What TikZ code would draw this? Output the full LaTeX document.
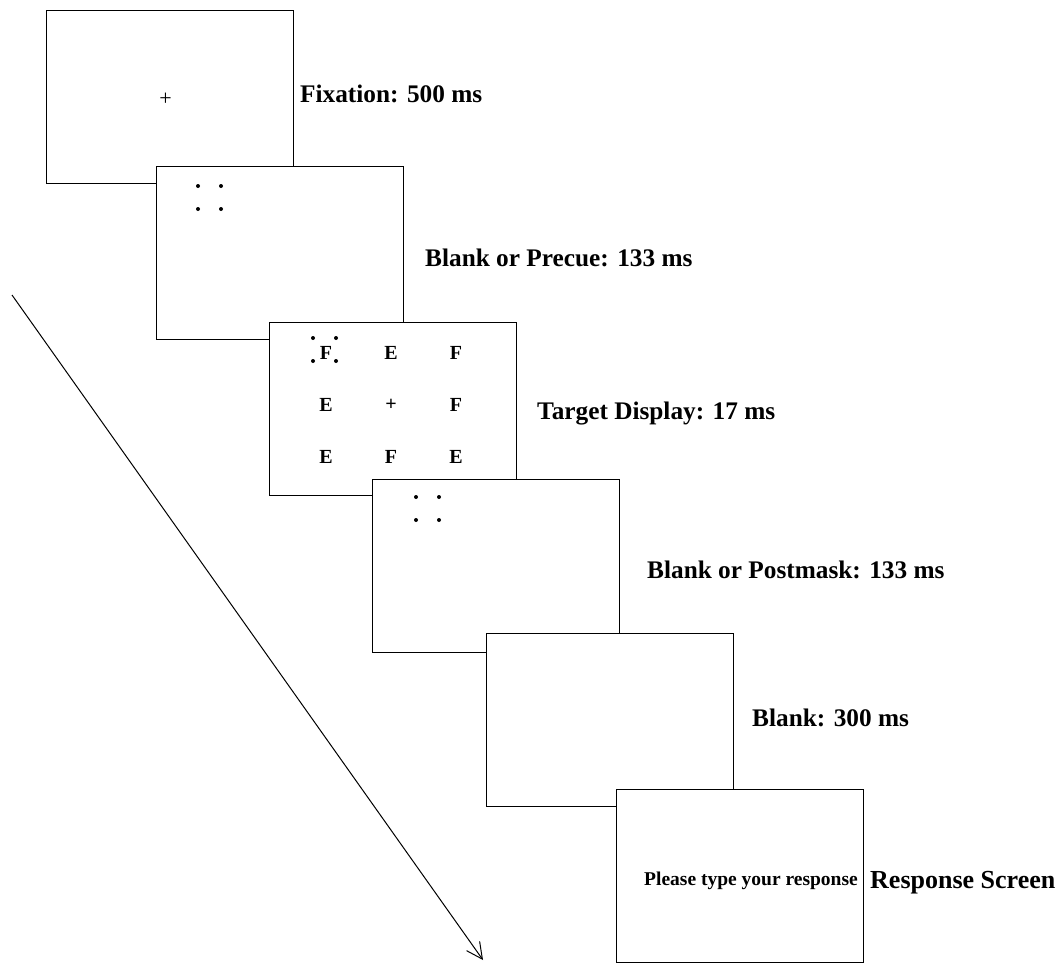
\documentclass[tikz,border=0pt]{standalone}
\usepackage{fontspec}
\setmainfont{Liberation Serif}
\usepackage{tikz}
\tikzset{x=1pt,y=-1pt}
\usetikzlibrary{arrows.meta, calc}
% four cue dots, first one at (#2,#3) from the screen's top-left corner
\newcommand\cuedots[3]{%
  \foreach \dx in {0,23}
    \foreach \dy in {0,23}
      \fill ($(#1.north west)+(#2+\dx,#3+\dy)$) circle (2pt);}

\begin{document}
\begin{tikzpicture}[
    screen/.style={draw, fill=white, line width=1.1pt, anchor=north west,
      minimum width=247pt, minimum height=173pt, inner sep=0pt},
    lbl/.style={font=\bfseries\fontsize{25.3}{30}\selectfont, inner sep=0pt, anchor=base west},
    lett/.style={font=\bfseries\fontsize{20}{22}\selectfont, inner sep=0pt}]
    \useasboundingbox (0,0) rectangle (1059,962);
    % time runs down
    \coordinate (t0) at (12,295);
    \coordinate (t1) at (483,960);
    \draw[line width=1pt, -{Straight Barb[length=16pt,width=16pt]}] (t0) -- (t1);

    % the screens, each one on top of the last
    \node[screen] (fix) at (46,10) {};
    \node[screen] (pre) at (156,166) {};
    \node[screen] (tgt) at (269,322) {};
    \node[screen] (post) at (372,479) {};
    \node[screen] (blank) at (486,633) {};
    \node[screen] (resp) at (616,789) {};

    % fixation cross
    \node[font=\fontsize{22}{22}\selectfont, inner sep=0pt] (cross) at ([xshift=-4.5pt,yshift=-2.5pt]fix.center) {+};
    % precue
    \cuedots{pre}{42}{20}
    % target display
    \foreach \c/\r/\l in {0/0/F,1/0/E,2/0/F,0/1/E,1/1/+,2/1/F,0/2/E,1/2/F,2/2/E}
      \node[lett] (g\c\r) at ($(tgt.north west)+(57+65*\c,31+52*\r)$) {\l};
    \cuedots{tgt}{44}{16}
    % postmask
    \cuedots{post}{44}{18}
    % response
    \node[font=\bfseries\fontsize{19.5}{22}\selectfont, inner sep=0pt, anchor=base east]
      (prompt) at (858,885) {Please type your response};

    % durations
    \node[lbl] (lfix) at (300,102) {Fixation: 500 ms};
    \node[lbl] (lpre) at (425,266) {Blank or Precue: 133 ms};
    \node[lbl] (ltgt) at (537,419) {Target Display: 17 ms};
    \node[lbl] (lpost) at (647,578) {Blank or Postmask: 133 ms};
    \node[lbl] (lblank) at (752,726) {Blank: 300 ms};
    \node[lbl, font=\bfseries\fontsize{26}{30}\selectfont] (lresp) at (870,888) {Response Screen};
\end{tikzpicture}
\end{document}
